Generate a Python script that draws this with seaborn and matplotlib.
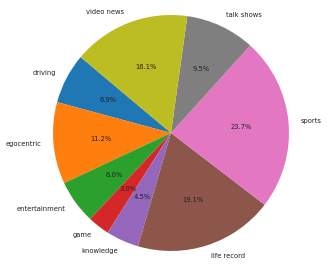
import matplotlib
matplotlib.use("Agg")
import matplotlib.pyplot as plt
import seaborn as sns

categories = ["driving", "egocentric", "entertainment", "game", "knowledge",
              "life record", "sports", "talk shows", "video news"]
values = [6.9, 11.2, 6.0, 3.0, 4.5, 19.1, 23.7, 9.5, 16.1]

sns.set_style("white")
plt.rcParams['font.family'] = ['DejaVu Sans']
colors = sns.color_palette("tab10", len(categories))

fig = plt.figure(figsize=(3.27, 2.67), dpi=100)
ax = fig.add_axes([0, 0, 1, 1])
ax.pie(values, labels=categories, colors=colors, autopct="%1.1f%%",
       startangle=140, textprops={"fontsize": 4.9, "color": "#222222"},
       wedgeprops={"linewidth": 0, "edgecolor": "none"})
ax.set_aspect("equal")
ax.set_xlim(-1.449, 1.322)
ax.set_ylim(-1.136, 1.127)
ax.axis("off")
fig.savefig("out.png", dpi=100)
